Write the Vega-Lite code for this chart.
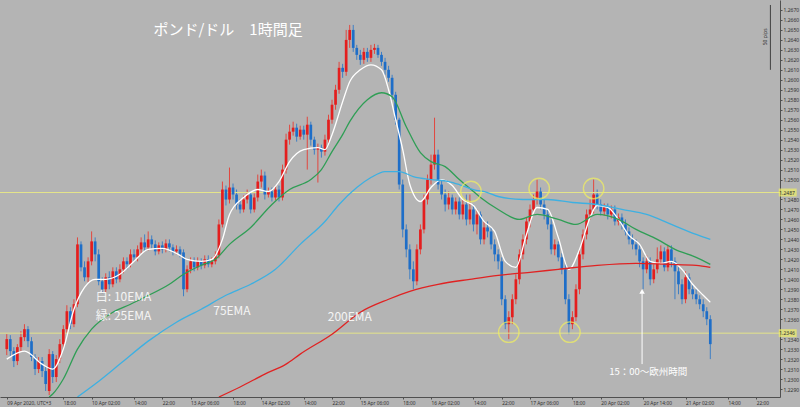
{
"$schema":"https://vega.github.io/schema/vega-lite/v6.json",
"width":780,"height":397,"autosize":{"type":"none"},
"padding":{"left":0,"top":0,"right":20,"bottom":10},
"background":"#b4b4b4",
"config":{"view":{"stroke":null},"font":"Noto Sans",
 "axisX":{"domainColor":"#505050","tickColor":"#505050","tickSize":2,"labelFontSize":4.8,"labelColor":"#303030","labelAlign":"left","labelBaseline":"top","labelPadding":1.5,"labelOverlap":false,"labelFlush":false,"labelBound":false,"grid":false,"zindex":0},
 "axisY":{"domainColor":"#505050","tickColor":"#505050","tickSize":2,"labelFontSize":5,"labelColor":"#303030","labelPadding":1,"labelOverlap":false,"labelFlush":false,"labelBound":false,"grid":false,"zindex":0}},
"datasets":{
"candles":[
{"i":0,"o":1.2330,"h":1.2345,"l":1.2324,"c":1.2340},
{"i":1,"o":1.2340,"h":1.2344,"l":1.2322,"c":1.2328},
{"i":2,"o":1.2328,"h":1.2332,"l":1.2312,"c":1.2318},
{"i":3,"o":1.2318,"h":1.2335,"l":1.2314,"c":1.2332},
{"i":4,"o":1.2332,"h":1.2348,"l":1.2328,"c":1.2342},
{"i":5,"o":1.2342,"h":1.2355,"l":1.2338,"c":1.2350},
{"i":6,"o":1.2350,"h":1.2353,"l":1.2332,"c":1.2338},
{"i":7,"o":1.2338,"h":1.2342,"l":1.2318,"c":1.2322},
{"i":8,"o":1.2322,"h":1.2325,"l":1.2304,"c":1.2310},
{"i":9,"o":1.2310,"h":1.2322,"l":1.2306,"c":1.2318},
{"i":10,"o":1.2318,"h":1.2322,"l":1.2302,"c":1.2308},
{"i":11,"o":1.2308,"h":1.2312,"l":1.2288,"c":1.2295},
{"i":12,"o":1.2288,"h":1.2330,"l":1.2284,"c":1.2325},
{"i":13,"o":1.2325,"h":1.2328,"l":1.2296,"c":1.2302},
{"i":14,"o":1.2302,"h":1.2324,"l":1.2297,"c":1.2320},
{"i":15,"o":1.2320,"h":1.2340,"l":1.2316,"c":1.2335},
{"i":16,"o":1.2335,"h":1.2354,"l":1.2330,"c":1.2350},
{"i":17,"o":1.2350,"h":1.2374,"l":1.2346,"c":1.2368},
{"i":18,"o":1.2368,"h":1.2372,"l":1.2350,"c":1.2355},
{"i":19,"o":1.2355,"h":1.2380,"l":1.2352,"c":1.2375},
{"i":20,"o":1.2375,"h":1.2442,"l":1.2372,"c":1.2435},
{"i":21,"o":1.2435,"h":1.2438,"l":1.2408,"c":1.2412},
{"i":22,"o":1.2412,"h":1.2418,"l":1.2398,"c":1.2402},
{"i":23,"o":1.2402,"h":1.2422,"l":1.2397,"c":1.2418},
{"i":24,"o":1.2418,"h":1.2448,"l":1.2414,"c":1.2438},
{"i":25,"o":1.2438,"h":1.2442,"l":1.2418,"c":1.2425},
{"i":26,"o":1.2425,"h":1.2430,"l":1.2394,"c":1.2398},
{"i":27,"o":1.2398,"h":1.2402,"l":1.2386,"c":1.2390},
{"i":28,"o":1.2390,"h":1.2406,"l":1.2387,"c":1.2402},
{"i":29,"o":1.2402,"h":1.2408,"l":1.2390,"c":1.2395},
{"i":30,"o":1.2395,"h":1.2412,"l":1.2392,"c":1.2408},
{"i":31,"o":1.2408,"h":1.2412,"l":1.2396,"c":1.2400},
{"i":32,"o":1.2400,"h":1.2415,"l":1.2397,"c":1.2410},
{"i":33,"o":1.2410,"h":1.2422,"l":1.2406,"c":1.2418},
{"i":34,"o":1.2418,"h":1.2422,"l":1.2410,"c":1.2415},
{"i":35,"o":1.2415,"h":1.2430,"l":1.2412,"c":1.2425},
{"i":36,"o":1.2425,"h":1.2430,"l":1.2418,"c":1.2422},
{"i":37,"o":1.2422,"h":1.2434,"l":1.2418,"c":1.2430},
{"i":38,"o":1.2430,"h":1.2442,"l":1.2426,"c":1.2437},
{"i":39,"o":1.2437,"h":1.2445,"l":1.2428,"c":1.2432},
{"i":40,"o":1.2432,"h":1.2448,"l":1.2429,"c":1.2440},
{"i":41,"o":1.2440,"h":1.2444,"l":1.2431,"c":1.2435},
{"i":42,"o":1.2435,"h":1.2439,"l":1.2424,"c":1.2428},
{"i":43,"o":1.2428,"h":1.2437,"l":1.2425,"c":1.2434},
{"i":44,"o":1.2434,"h":1.2438,"l":1.2426,"c":1.2430},
{"i":45,"o":1.2430,"h":1.2440,"l":1.2427,"c":1.2436},
{"i":46,"o":1.2436,"h":1.2440,"l":1.2428,"c":1.2432},
{"i":47,"o":1.2432,"h":1.2435,"l":1.2424,"c":1.2428},
{"i":48,"o":1.2428,"h":1.2434,"l":1.2425,"c":1.2430},
{"i":49,"o":1.2430,"h":1.2433,"l":1.2422,"c":1.2425},
{"i":50,"o":1.2427,"h":1.2430,"l":1.2383,"c":1.2390},
{"i":51,"o":1.2390,"h":1.2414,"l":1.2387,"c":1.2410},
{"i":52,"o":1.2410,"h":1.2422,"l":1.2406,"c":1.2418},
{"i":53,"o":1.2418,"h":1.2422,"l":1.2408,"c":1.2412},
{"i":54,"o":1.2412,"h":1.2422,"l":1.2409,"c":1.2418},
{"i":55,"o":1.2418,"h":1.2421,"l":1.2410,"c":1.2414},
{"i":56,"o":1.2414,"h":1.2424,"l":1.2411,"c":1.2420},
{"i":57,"o":1.2420,"h":1.2424,"l":1.2412,"c":1.2415},
{"i":58,"o":1.2415,"h":1.2422,"l":1.2412,"c":1.2418},
{"i":59,"o":1.2418,"h":1.2428,"l":1.2415,"c":1.2424},
{"i":60,"o":1.2424,"h":1.2460,"l":1.2421,"c":1.2455},
{"i":61,"o":1.2455,"h":1.2498,"l":1.2452,"c":1.2490},
{"i":62,"o":1.2490,"h":1.2494,"l":1.2474,"c":1.2480},
{"i":63,"o":1.2480,"h":1.2512,"l":1.2476,"c":1.2492},
{"i":64,"o":1.2492,"h":1.2496,"l":1.2480,"c":1.2485},
{"i":65,"o":1.2485,"h":1.2490,"l":1.2470,"c":1.2475},
{"i":66,"o":1.2475,"h":1.2480,"l":1.2466,"c":1.2470},
{"i":67,"o":1.2470,"h":1.2484,"l":1.2467,"c":1.2480},
{"i":68,"o":1.2480,"h":1.2490,"l":1.2476,"c":1.2485},
{"i":69,"o":1.2485,"h":1.2488,"l":1.2466,"c":1.2470},
{"i":70,"o":1.2470,"h":1.2486,"l":1.2467,"c":1.2482},
{"i":71,"o":1.2482,"h":1.2505,"l":1.2478,"c":1.2498},
{"i":72,"o":1.2498,"h":1.2510,"l":1.2492,"c":1.2504},
{"i":73,"o":1.2504,"h":1.2508,"l":1.2480,"c":1.2485},
{"i":74,"o":1.2485,"h":1.2492,"l":1.2482,"c":1.2488},
{"i":75,"o":1.2488,"h":1.2492,"l":1.2478,"c":1.2482},
{"i":76,"o":1.2482,"h":1.2494,"l":1.2479,"c":1.2490},
{"i":77,"o":1.2490,"h":1.2494,"l":1.2478,"c":1.2482},
{"i":78,"o":1.2482,"h":1.2515,"l":1.2479,"c":1.2510},
{"i":79,"o":1.2510,"h":1.2546,"l":1.2506,"c":1.2540},
{"i":80,"o":1.2540,"h":1.2555,"l":1.2535,"c":1.2548},
{"i":81,"o":1.2548,"h":1.2558,"l":1.2544,"c":1.2552},
{"i":82,"o":1.2552,"h":1.2556,"l":1.2538,"c":1.2543},
{"i":83,"o":1.2543,"h":1.2554,"l":1.2540,"c":1.2550},
{"i":84,"o":1.2550,"h":1.2554,"l":1.2540,"c":1.2545},
{"i":85,"o":1.2545,"h":1.2563,"l":1.2510,"c":1.2555},
{"i":86,"o":1.2555,"h":1.2558,"l":1.2534,"c":1.2540},
{"i":87,"o":1.2540,"h":1.2543,"l":1.2525,"c":1.2530},
{"i":88,"o":1.2530,"h":1.2536,"l":1.2497,"c":1.2532},
{"i":89,"o":1.2532,"h":1.2535,"l":1.2522,"c":1.2528},
{"i":90,"o":1.2528,"h":1.2545,"l":1.2524,"c":1.2540},
{"i":91,"o":1.2540,"h":1.2565,"l":1.2536,"c":1.2560},
{"i":92,"o":1.2560,"h":1.2580,"l":1.2556,"c":1.2575},
{"i":93,"o":1.2575,"h":1.2595,"l":1.2570,"c":1.2590},
{"i":94,"o":1.2590,"h":1.2618,"l":1.2586,"c":1.2612},
{"i":95,"o":1.2612,"h":1.2616,"l":1.2602,"c":1.2608},
{"i":96,"o":1.2608,"h":1.2650,"l":1.2604,"c":1.2640},
{"i":97,"o":1.2640,"h":1.2655,"l":1.2632,"c":1.2650},
{"i":98,"o":1.2650,"h":1.2655,"l":1.2628,"c":1.2632},
{"i":99,"o":1.2632,"h":1.2635,"l":1.2620,"c":1.2625},
{"i":100,"o":1.2625,"h":1.2630,"l":1.2615,"c":1.2620},
{"i":101,"o":1.2620,"h":1.2632,"l":1.2616,"c":1.2628},
{"i":102,"o":1.2628,"h":1.2632,"l":1.2618,"c":1.2622},
{"i":103,"o":1.2622,"h":1.2635,"l":1.2618,"c":1.2630},
{"i":104,"o":1.2630,"h":1.2636,"l":1.2626,"c":1.2632},
{"i":105,"o":1.2632,"h":1.2635,"l":1.2622,"c":1.2625},
{"i":106,"o":1.2625,"h":1.2628,"l":1.2614,"c":1.2618},
{"i":107,"o":1.2618,"h":1.2622,"l":1.2605,"c":1.2610},
{"i":108,"o":1.2610,"h":1.2614,"l":1.2598,"c":1.2602},
{"i":109,"o":1.2602,"h":1.2605,"l":1.2580,"c":1.2585},
{"i":110,"o":1.2585,"h":1.2588,"l":1.2555,"c":1.2560},
{"i":111,"o":1.2560,"h":1.2562,"l":1.2490,"c":1.2495},
{"i":112,"o":1.2495,"h":1.2500,"l":1.2442,"c":1.2450},
{"i":113,"o":1.2450,"h":1.2455,"l":1.2422,"c":1.2430},
{"i":114,"o":1.2430,"h":1.2435,"l":1.2400,"c":1.2410},
{"i":115,"o":1.2410,"h":1.2418,"l":1.2390,"c":1.2398},
{"i":116,"o":1.2398,"h":1.2435,"l":1.2394,"c":1.2430},
{"i":117,"o":1.2430,"h":1.2455,"l":1.2425,"c":1.2450},
{"i":118,"o":1.2450,"h":1.2485,"l":1.2446,"c":1.2480},
{"i":119,"o":1.2480,"h":1.2505,"l":1.2475,"c":1.2500},
{"i":120,"o":1.2500,"h":1.2525,"l":1.2495,"c":1.2515},
{"i":121,"o":1.2515,"h":1.2562,"l":1.2510,"c":1.2525},
{"i":122,"o":1.2525,"h":1.2530,"l":1.2490,"c":1.2495},
{"i":123,"o":1.2495,"h":1.2500,"l":1.2480,"c":1.2485},
{"i":124,"o":1.2485,"h":1.2490,"l":1.2468,"c":1.2475},
{"i":125,"o":1.2475,"h":1.2488,"l":1.2470,"c":1.2482},
{"i":126,"o":1.2482,"h":1.2485,"l":1.2465,"c":1.2470},
{"i":127,"o":1.2470,"h":1.2482,"l":1.2465,"c":1.2478},
{"i":128,"o":1.2478,"h":1.2482,"l":1.2460,"c":1.2465},
{"i":129,"o":1.2465,"h":1.2480,"l":1.2460,"c":1.2475},
{"i":130,"o":1.2475,"h":1.2485,"l":1.2454,"c":1.2460},
{"i":131,"o":1.2460,"h":1.2485,"l":1.2455,"c":1.2470},
{"i":132,"o":1.2470,"h":1.2475,"l":1.2448,"c":1.2455},
{"i":133,"o":1.2455,"h":1.2470,"l":1.2445,"c":1.2465},
{"i":134,"o":1.2465,"h":1.2468,"l":1.2435,"c":1.2440},
{"i":135,"o":1.2440,"h":1.2458,"l":1.2435,"c":1.2452},
{"i":136,"o":1.2452,"h":1.2458,"l":1.2442,"c":1.2448},
{"i":137,"o":1.2448,"h":1.2452,"l":1.2430,"c":1.2435},
{"i":138,"o":1.2435,"h":1.2440,"l":1.2418,"c":1.2425},
{"i":139,"o":1.2425,"h":1.2430,"l":1.2410,"c":1.2418},
{"i":140,"o":1.2418,"h":1.2422,"l":1.2374,"c":1.2380},
{"i":141,"o":1.2380,"h":1.2384,"l":1.2350,"c":1.2355},
{"i":142,"o":1.2355,"h":1.2368,"l":1.2340,"c":1.2362},
{"i":143,"o":1.2362,"h":1.2385,"l":1.2355,"c":1.2380},
{"i":144,"o":1.2380,"h":1.2405,"l":1.2375,"c":1.2400},
{"i":145,"o":1.2400,"h":1.2430,"l":1.2395,"c":1.2425},
{"i":146,"o":1.2425,"h":1.2445,"l":1.2420,"c":1.2440},
{"i":147,"o":1.2440,"h":1.2462,"l":1.2435,"c":1.2458},
{"i":148,"o":1.2458,"h":1.2475,"l":1.2452,"c":1.2470},
{"i":149,"o":1.2470,"h":1.2485,"l":1.2465,"c":1.2480},
{"i":150,"o":1.2480,"h":1.2500,"l":1.2475,"c":1.2488},
{"i":151,"o":1.2488,"h":1.2492,"l":1.2470,"c":1.2475},
{"i":152,"o":1.2475,"h":1.2480,"l":1.2460,"c":1.2465},
{"i":153,"o":1.2465,"h":1.2470,"l":1.2450,"c":1.2455},
{"i":154,"o":1.2455,"h":1.2460,"l":1.2425,"c":1.2430},
{"i":155,"o":1.2430,"h":1.2440,"l":1.2424,"c":1.2435},
{"i":156,"o":1.2435,"h":1.2438,"l":1.2418,"c":1.2422},
{"i":157,"o":1.2422,"h":1.2426,"l":1.2405,"c":1.2410},
{"i":158,"o":1.2410,"h":1.2415,"l":1.2375,"c":1.2380},
{"i":159,"o":1.2380,"h":1.2385,"l":1.2345,"c":1.2355},
{"i":160,"o":1.2355,"h":1.2368,"l":1.2350,"c":1.2362},
{"i":161,"o":1.2362,"h":1.2395,"l":1.2358,"c":1.2390},
{"i":162,"o":1.2390,"h":1.2430,"l":1.2385,"c":1.2425},
{"i":163,"o":1.2425,"h":1.2450,"l":1.2420,"c":1.2445},
{"i":164,"o":1.2445,"h":1.2470,"l":1.2440,"c":1.2465},
{"i":165,"o":1.2465,"h":1.2480,"l":1.2460,"c":1.2470},
{"i":166,"o":1.2470,"h":1.2500,"l":1.2466,"c":1.2485},
{"i":167,"o":1.2485,"h":1.2490,"l":1.2470,"c":1.2475},
{"i":168,"o":1.2475,"h":1.2480,"l":1.2464,"c":1.2468},
{"i":169,"o":1.2468,"h":1.2476,"l":1.2464,"c":1.2472},
{"i":170,"o":1.2472,"h":1.2476,"l":1.2460,"c":1.2465},
{"i":171,"o":1.2465,"h":1.2474,"l":1.2461,"c":1.2470},
{"i":172,"o":1.2470,"h":1.2474,"l":1.2454,"c":1.2458},
{"i":173,"o":1.2458,"h":1.2466,"l":1.2454,"c":1.2462},
{"i":174,"o":1.2462,"h":1.2466,"l":1.2450,"c":1.2455},
{"i":175,"o":1.2455,"h":1.2460,"l":1.2444,"c":1.2448},
{"i":176,"o":1.2448,"h":1.2452,"l":1.2435,"c":1.2440},
{"i":177,"o":1.2440,"h":1.2445,"l":1.2430,"c":1.2435},
{"i":178,"o":1.2435,"h":1.2440,"l":1.2424,"c":1.2430},
{"i":179,"o":1.2430,"h":1.2434,"l":1.2412,"c":1.2418},
{"i":180,"o":1.2418,"h":1.2422,"l":1.2390,"c":1.2410},
{"i":181,"o":1.2410,"h":1.2424,"l":1.2406,"c":1.2418},
{"i":182,"o":1.2418,"h":1.2422,"l":1.2394,"c":1.2400},
{"i":183,"o":1.2400,"h":1.2415,"l":1.2396,"c":1.2410},
{"i":184,"o":1.2410,"h":1.2432,"l":1.2406,"c":1.2420},
{"i":185,"o":1.2420,"h":1.2434,"l":1.2415,"c":1.2428},
{"i":186,"o":1.2428,"h":1.2432,"l":1.2408,"c":1.2412},
{"i":187,"o":1.2412,"h":1.2434,"l":1.2408,"c":1.2430},
{"i":188,"o":1.2430,"h":1.2434,"l":1.2412,"c":1.2418},
{"i":189,"o":1.2418,"h":1.2422,"l":1.2380,"c":1.2408},
{"i":190,"o":1.2408,"h":1.2412,"l":1.2385,"c":1.2395},
{"i":191,"o":1.2395,"h":1.2400,"l":1.2375,"c":1.2380},
{"i":192,"o":1.2380,"h":1.2408,"l":1.2376,"c":1.2402},
{"i":193,"o":1.2402,"h":1.2406,"l":1.2385,"c":1.2390},
{"i":194,"o":1.2390,"h":1.2394,"l":1.2380,"c":1.2385},
{"i":195,"o":1.2385,"h":1.2390,"l":1.2375,"c":1.2380},
{"i":196,"o":1.2380,"h":1.2384,"l":1.2370,"c":1.2375},
{"i":197,"o":1.2375,"h":1.2380,"l":1.2362,"c":1.2368},
{"i":198,"o":1.2368,"h":1.2372,"l":1.2354,"c":1.2360},
{"i":199,"o":1.2360,"h":1.2364,"l":1.2320,"c":1.2335}
],
"ema":[
{"k":"10","i":0,"v":1.2320},{"k":"10","i":5,"v":1.2328},{"k":"10","i":10,"v":1.2315},{"k":"10","i":13,"v":1.2310},{"k":"10","i":16,"v":1.2330},{"k":"10","i":19,"v":1.2370},{"k":"10","i":22,"v":1.2392},{"k":"10","i":25,"v":1.2400},{"k":"10","i":28,"v":1.2400},{"k":"10","i":32,"v":1.2405},{"k":"10","i":36,"v":1.2418},{"k":"10","i":40,"v":1.2430},{"k":"10","i":44,"v":1.2431},{"k":"10","i":48,"v":1.2426},{"k":"10","i":51,"v":1.2420},{"k":"10","i":55,"v":1.2418},{"k":"10","i":58,"v":1.2420},{"k":"10","i":61,"v":1.2440},{"k":"10","i":63,"v":1.2465},{"k":"10","i":67,"v":1.2482},{"k":"10","i":71,"v":1.2490},{"k":"10","i":74,"v":1.2488},{"k":"10","i":77,"v":1.2498},{"k":"10","i":80,"v":1.2518},{"k":"10","i":84,"v":1.2530},{"k":"10","i":88,"v":1.2532},{"k":"10","i":90,"v":1.2530},{"k":"10","i":92,"v":1.2545},{"k":"10","i":95,"v":1.2578},{"k":"10","i":97,"v":1.2598},{"k":"10","i":100,"v":1.2610},{"k":"10","i":103,"v":1.2615},{"k":"10","i":106,"v":1.2610},{"k":"10","i":108,"v":1.2590},{"k":"10","i":110,"v":1.2560},{"k":"10","i":112,"v":1.2530},{"k":"10","i":114,"v":1.2495},{"k":"10","i":117,"v":1.2478},{"k":"10","i":120,"v":1.2492},{"k":"10","i":123,"v":1.2500},{"k":"10","i":126,"v":1.2494},{"k":"10","i":129,"v":1.2480},{"k":"10","i":132,"v":1.2474},{"k":"10","i":135,"v":1.2458},{"k":"10","i":138,"v":1.2448},{"k":"10","i":141,"v":1.2418},{"k":"10","i":144,"v":1.2412},{"k":"10","i":147,"v":1.2445},{"k":"10","i":150,"v":1.2472},{"k":"10","i":153,"v":1.2470},{"k":"10","i":156,"v":1.2442},{"k":"10","i":159,"v":1.2410},{"k":"10","i":162,"v":1.2430},{"k":"10","i":165,"v":1.2462},{"k":"10","i":167,"v":1.2474},{"k":"10","i":170,"v":1.2472},{"k":"10","i":173,"v":1.2460},{"k":"10","i":176,"v":1.2444},{"k":"10","i":179,"v":1.2435},{"k":"10","i":182,"v":1.2418},{"k":"10","i":185,"v":1.2416},{"k":"10","i":188,"v":1.2418},{"k":"10","i":191,"v":1.2410},{"k":"10","i":194,"v":1.2395},{"k":"10","i":197,"v":1.2384},{"k":"10","i":199,"v":1.2377},
{"k":"25","i":12,"v":1.2282},{"k":"25","i":13,"v":1.2285},{"k":"25","i":16,"v":1.2300},{"k":"25","i":20,"v":1.2330},{"k":"25","i":24,"v":1.2350},{"k":"25","i":30,"v":1.2367},{"k":"25","i":35,"v":1.2375},{"k":"25","i":39,"v":1.2382},{"k":"25","i":46,"v":1.2395},{"k":"25","i":50,"v":1.2405},{"k":"25","i":55,"v":1.2414},{"k":"25","i":59,"v":1.2420},{"k":"25","i":63,"v":1.2435},{"k":"25","i":69,"v":1.2452},{"k":"25","i":75,"v":1.2475},{"k":"25","i":80,"v":1.2490},{"k":"25","i":86,"v":1.2500},{"k":"25","i":89,"v":1.2510},{"k":"25","i":92,"v":1.2528},{"k":"25","i":95,"v":1.2545},{"k":"25","i":97,"v":1.2558},{"k":"25","i":102,"v":1.2580},{"k":"25","i":106,"v":1.2587},{"k":"25","i":109,"v":1.2583},{"k":"25","i":113,"v":1.2553},{"k":"25","i":117,"v":1.2527},{"k":"25","i":120,"v":1.2518},{"k":"25","i":124,"v":1.2513},{"k":"25","i":128,"v":1.2500},{"k":"25","i":132,"v":1.2488},{"k":"25","i":134,"v":1.2482},{"k":"25","i":139,"v":1.2470},{"k":"25","i":145,"v":1.2460},{"k":"25","i":150,"v":1.2465},{"k":"25","i":156,"v":1.2460},{"k":"25","i":161,"v":1.2455},{"k":"25","i":167,"v":1.2465},{"k":"25","i":173,"v":1.2460},{"k":"25","i":178,"v":1.2450},{"k":"25","i":184,"v":1.2440},{"k":"25","i":189,"v":1.2430},{"k":"25","i":195,"v":1.2422},{"k":"25","i":199,"v":1.2415},
{"k":"75","i":20,"v":1.2282},{"k":"75","i":25,"v":1.2295},{"k":"75","i":32,"v":1.2315},{"k":"75","i":40,"v":1.2338},{"k":"75","i":48,"v":1.2357},{"k":"75","i":55,"v":1.2370},{"k":"75","i":62,"v":1.2384},{"k":"75","i":69,"v":1.2395},{"k":"75","i":76,"v":1.2410},{"k":"75","i":83,"v":1.2435},{"k":"75","i":90,"v":1.2458},{"k":"75","i":94,"v":1.2475},{"k":"75","i":99,"v":1.2492},{"k":"75","i":103,"v":1.2502},{"k":"75","i":107,"v":1.2508},{"k":"75","i":111,"v":1.2508},{"k":"75","i":115,"v":1.2503},{"k":"75","i":120,"v":1.2500},{"k":"75","i":125,"v":1.2498},{"k":"75","i":128,"v":1.2495},{"k":"75","i":132,"v":1.2490},{"k":"75","i":136,"v":1.2487},{"k":"75","i":139,"v":1.2483},{"k":"75","i":146,"v":1.2480},{"k":"75","i":153,"v":1.2480},{"k":"75","i":160,"v":1.2477},{"k":"75","i":167,"v":1.2475},{"k":"75","i":174,"v":1.2470},{"k":"75","i":181,"v":1.2465},{"k":"75","i":188,"v":1.2455},{"k":"75","i":195,"v":1.2445},{"k":"75","i":199,"v":1.2440},
{"k":"200","i":60,"v":1.2282},{"k":"200","i":66,"v":1.2292},{"k":"200","i":73,"v":1.2305},{"k":"200","i":79,"v":1.2315},{"k":"200","i":83,"v":1.2325},{"k":"200","i":92,"v":1.2345},{"k":"200","i":100,"v":1.2367},{"k":"200","i":108,"v":1.2380},{"k":"200","i":114,"v":1.2388},{"k":"200","i":122,"v":1.2395},{"k":"200","i":131,"v":1.2400},{"k":"200","i":139,"v":1.2404},{"k":"200","i":148,"v":1.2407},{"k":"200","i":156,"v":1.2410},{"k":"200","i":167,"v":1.2414},{"k":"200","i":178,"v":1.2416},{"k":"200","i":187,"v":1.2415},{"k":"200","i":195,"v":1.2414},{"k":"200","i":199,"v":1.2412}
],
"hl":[{"p":1.2487},{"p":1.2346}],
"circ":[{"i":131.3,"p":1.2488},{"i":150.6,"p":1.2491},{"i":166,"p":1.2491},{"i":142,"p":1.2347},{"i":159.3,"p":1.2347}]
},
"layer":[
{"data":{"name":"candles"},"mark":{"type":"rule","strokeWidth":1,"clip":true},
 "encoding":{
  "x":{"field":"i","type":"quantitative","title":null,"scale":{"domain":[-0.5,217.3],"nice":false,"zero":false},
   "axis":{"labelOverlap":false,"tickCount":400,"values":[0,16,24,36,44,52,64,72,84,92,100,112,120,132,140,148,160,168,180,192,204,212],
    "labelExpr":"['09 Apr 2020, UTC+3','18:00','10 Apr 02:00','14:00','22:00','13 Apr 06:00','18:00','14 Apr 02:00','14:00','22:00','15 Apr 06:00','18:00','16 Apr 02:00','14:00','22:00','17 Apr 06:00','18:00','20 Apr 02:00','20 Apr 14:00','21 Apr 02:00','14:00','22:00'][indexof([0,16,24,36,44,52,64,72,84,92,100,112,120,132,140,148,160,168,180,192,204,212], datum.value)]"}},
  "y":{"field":"l","type":"quantitative","title":null,"scale":{"domain":[1.2282,1.2680],"nice":false,"zero":false},
   "axis":{"orient":"right","labelOverlap":false,"tickCount":400,"format":".4f","values":[1.229,1.230,1.231,1.232,1.233,1.234,1.236,1.237,1.238,1.239,1.240,1.241,1.242,1.243,1.244,1.245,1.246,1.247,1.248,1.250,1.251,1.252,1.253,1.254,1.255,1.256,1.257,1.258,1.259,1.260,1.261,1.262,1.263,1.264,1.265,1.266,1.267]}},
  "y2":{"field":"h"},
  "color":{"condition":{"test":"datum.c >= datum.o","value":"#e2473f"},"value":"#3f7fc4"}}},
{"data":{"name":"hl"},"mark":{"type":"rule","color":"#e4e48a","strokeWidth":1},
 "encoding":{"y":{"field":"p","type":"quantitative","title":null}}},
{"data":{"name":"candles"},"mark":{"type":"bar","size":2.7,"clip":true},
 "encoding":{
  "x":{"field":"i","type":"quantitative","title":null},
  "y":{"field":"o","type":"quantitative","title":null},
  "y2":{"field":"c"},
  "color":{"condition":{"test":"datum.c >= datum.o","value":"#e41e1e"},"value":"#1e6ec8"}}},
{"data":{"name":"ema"},"mark":{"type":"line","interpolate":"monotone","clip":true},
 "encoding":{
  "x":{"field":"i","type":"quantitative","title":null},
  "y":{"field":"v","type":"quantitative","title":null},
  "color":{"field":"k","type":"nominal","legend":null,"scale":{"domain":["10","25","75","200"],"range":["#ffffff","#2f9e55","#3db0e2","#e02222"]}},
  "strokeWidth":{"field":"k","type":"nominal","legend":null,"scale":{"domain":["10","25","75","200"],"range":[1.3,1.3,1.4,1.8]}}}},
{"data":{"name":"circ"},"mark":{"type":"point","shape":"circle","filled":false,"size":420,"stroke":"#f2f060","strokeWidth":1.4},
 "encoding":{"x":{"field":"i","type":"quantitative","title":null},"y":{"field":"p","type":"quantitative","title":null}}},
{"data":{"values":[{"i":62.6,"p":1.2650,"t":"ポンド/ドル　1時間足"}]},
 "mark":{"type":"text","font":"Noto Sans CJK JP","fontSize":15,"color":"#ffffff","align":"center","baseline":"middle"},
 "encoding":{"x":{"field":"i","type":"quantitative","title":null},"y":{"field":"p","type":"quantitative","title":null},"text":{"field":"t"}}},
{"data":{"values":[{"i":25.2,"p":1.2382,"t":"白: 10EMA"},{"i":25.2,"p":1.2363,"t":"緑: 25EMA"},{"i":58.4,"p":1.2368,"t":"75EMA"},{"i":90.8,"p":1.2362,"t":"200EMA"}]},
 "mark":{"type":"text","font":"Noto Sans CJK JP","fontSize":12,"color":"#f4f4f4","align":"left","baseline":"middle"},
 "encoding":{"x":{"field":"i","type":"quantitative","title":null},"y":{"field":"p","type":"quantitative","title":null},"text":{"field":"t"}}},
{"data":{"values":[{"i":170.4,"p":1.2307,"t":"15：00～欧州時間"}]},
 "mark":{"type":"text","font":"Noto Sans CJK JP","fontSize":9.5,"color":"#ffffff","align":"left","baseline":"middle"},
 "encoding":{"x":{"field":"i","type":"quantitative","title":null},"y":{"field":"p","type":"quantitative","title":null},"text":{"field":"t"}}},
{"data":{"values":[{"i":179.7,"a":1.2315,"b":1.2386}]},
 "mark":{"type":"rule","color":"#ffffff","strokeWidth":1},
 "encoding":{"x":{"field":"i","type":"quantitative","title":null},"y":{"field":"a","type":"quantitative","title":null},"y2":{"field":"b"}}},
{"data":{"values":[{"i":179.7,"p":1.2388}]},
 "mark":{"type":"point","shape":"triangle-up","filled":true,"size":30,"color":"#ffffff","opacity":1},
 "encoding":{"x":{"field":"i","type":"quantitative","title":null},"y":{"field":"p","type":"quantitative","title":null}}},
{"data":{"values":[{"i":216,"a":1.2675,"b":1.2610}]},
 "mark":{"type":"rule","color":"#404040","strokeWidth":1},
 "encoding":{"x":{"field":"i","type":"quantitative","title":null},"y":{"field":"a","type":"quantitative","title":null},"y2":{"field":"b"}}},
{"data":{"values":[{"i":214.6,"p":1.2643,"t":"50 pips"}]},
 "mark":{"type":"text","fontSize":5,"color":"#303030","angle":270,"align":"center","baseline":"middle"},
 "encoding":{"x":{"field":"i","type":"quantitative","title":null},"y":{"field":"p","type":"quantitative","title":null},"text":{"field":"t"}}},
{"data":{"name":"hl"},"mark":{"type":"tick","orient":"horizontal","size":18,"thickness":8,"color":"#eeee66","clip":false},
 "encoding":{"x":{"datum":220.9},"y":{"field":"p","type":"quantitative","title":null}}},
{"data":{"name":"hl"},"mark":{"type":"text","fontSize":5,"color":"#303030","align":"left","baseline":"middle"},
 "encoding":{"x":{"datum":218.5},"y":{"field":"p","type":"quantitative","title":null},"text":{"field":"p","format":".4f"}}}
]
}
